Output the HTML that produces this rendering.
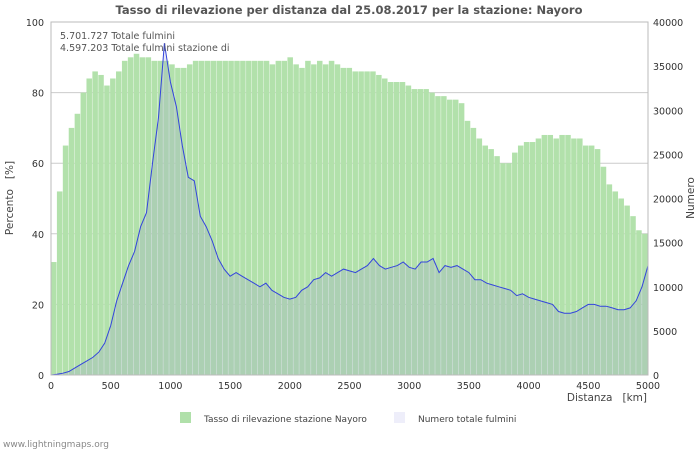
<!DOCTYPE html>
<html><head><meta charset="utf-8"><style>
body{margin:0;background:#fff;font-family:"Liberation Sans","DejaVu Sans",sans-serif;}
svg text{font-family:"DejaVu Sans","Liberation Sans",sans-serif;}
</style></head><body>
<svg id="c" width="700" height="450" xmlns="http://www.w3.org/2000/svg">
<text x="349" y="14" text-anchor="middle" font-size="11.5" font-weight="bold" fill="#555">Tasso di rilevazione per distanza dal 25.08.2017 per la stazione: Nayoro</text>
<g id="grid"></g><g id="bars"></g><g id="line"></g><g id="axes"></g>
<text x="60" y="39" font-size="9.5" fill="#555">5.701.727 Totale fulmini</text>
<text x="60" y="51" font-size="9.5" fill="#555">4.597.203 Totale fulmini stazione di</text>
<text transform="translate(13,198) rotate(-90)" text-anchor="middle" font-size="10.5" fill="#444">Percento&#160;&#160;&#160;[%]</text>
<text transform="translate(694,198) rotate(-90)" text-anchor="middle" font-size="10.5" fill="#444">Numero</text>
<text x="647" y="401" text-anchor="end" font-size="10.5" fill="#444">Distanza&#160;&#160;&#160;[km]</text>
<rect x="180" y="412" width="11" height="11" fill="#b0e0aa"/>
<text x="204" y="422" font-size="9" fill="#444">Tasso di rilevazione stazione Nayoro</text>
<rect x="394" y="412" width="11" height="11" fill="#eeeefa"/>
<text x="418" y="422" font-size="9" fill="#444">Numero totale fulmini</text>
<text x="3" y="447" font-size="9" fill="#888">www.lightningmaps.org</text>
</svg>
<script>
const distances=[0,50,100,150,200,250,300,350,400,450,500,550,600,650,700,750,800,850,900,950,1000,1050,1100,1150,1200,1250,1300,1350,1400,1450,1500,1550,1600,1650,1700,1750,1800,1850,1900,1950,2000,2050,2100,2150,2200,2250,2300,2350,2400,2450,2500,2550,2600,2650,2700,2750,2800,2850,2900,2950,3000,3050,3100,3150,3200,3250,3300,3350,3400,3450,3500,3550,3600,3650,3700,3750,3800,3850,3900,3950,4000,4050,4100,4150,4200,4250,4300,4350,4400,4450,4500,4550,4600,4650,4700,4750,4800,4850,4900,4950,5000];
const rates=[32,52,65,70,74,80,84,86,85,82,84,86,89,90,91,90,90,89,89,89,88,87,87,88,89,89,89,89,89,89,89,89,89,89,89,89,89,88,89,89,90,88,87,89,88,89,88,89,88,87,87,86,86,86,86,85,84,83,83,83,82,81,81,81,80,79,79,78,78,77,72,70,67,65,64,62,60,60,63,65,66,66,67,68,68,67,68,68,67,67,65,65,64,59,54,52,50,48,45,41,40];
const counts=[0,80,200,400,800,1200,1600,2000,2600,3600,5600,8400,10400,12400,14000,16800,18400,24000,29200,37600,33200,30400,26000,22400,22000,18000,16800,15200,13200,12000,11200,11600,11200,10800,10400,10000,10400,9600,9200,8800,8600,8800,9600,10000,10800,11000,11600,11200,11600,12000,11800,11600,12000,12400,13200,12400,12000,12200,12400,12800,12200,12000,12800,12800,13200,11600,12400,12200,12400,12000,11600,10800,10800,10400,10200,10000,9800,9600,9000,9200,8800,8600,8400,8200,8000,7200,7000,7000,7200,7600,8000,8000,7800,7800,7600,7400,7400,7600,8400,10000,12400];
const leftTicks=[0,20,40,60,80,100];
const rightTicks=[0,5000,10000,15000,20000,25000,30000,35000,40000];
const xTicks=[0,500,1000,1500,2000,2500,3000,3500,4000,4500,5000];
const X0=51,X1=648,Y0=375,Y1=22,NS="http://www.w3.org/2000/svg";
const xs=d=>X0+d/5000*(X1-X0), yl=v=>Y0-v/100*(Y0-Y1), yr=v=>Y0-v/40000*(Y0-Y1);
function mk(t,a,p){const e=document.createElementNS(NS,t);for(const k in a)e.setAttribute(k,a[k]);p.appendChild(e);return e;}
const grid=document.getElementById('grid'),bars=document.getElementById('bars'),line=document.getElementById('line'),axes=document.getElementById('axes');
leftTicks.forEach(v=>{if(v>0&&v<100){const g=mk('line',{x1:X0,x2:X1,y1:yl(v),y2:yl(v),stroke:'#ccc'},grid);

}});
const bw=(X1-X0)/distances.length;
distances.forEach((d,i)=>{const y=yl(rates[i]);const r=mk('rect',{x:X0+i*bw,y:y,width:bw-0.4,height:Y0-y,fill:'#b2e1ab'},bars);

});
let pts=distances.map((d,i)=>xs(d).toFixed(1)+','+yr(counts[i]).toFixed(1));
const area=mk('polygon',{points:X0+','+Y0+' '+pts.join(' ')+' '+X1+','+Y0,fill:'rgba(150,150,210,0.22)'},line);


const pl=mk('polyline',{points:pts.join(' '),fill:'none',stroke:'#3344dd','stroke-width':1},line);


const fr=mk('rect',{x:X0,y:Y1,width:X1-X0,height:Y0-Y1,fill:'none',stroke:'#bbb'},axes);


leftTicks.forEach(v=>{const t=mk('text',{x:X0-7,y:yl(v)+4,'text-anchor':'end','font-size':9.5,fill:'#333'},axes);t.textContent=v;

});
rightTicks.forEach(v=>{const t=mk('text',{x:X1+5,y:yr(v)+4,'font-size':9.5,fill:'#333'},axes);t.textContent=v;

});
xTicks.forEach(v=>{const t=mk('text',{x:xs(v),y:Y0+14,'text-anchor':'middle','font-size':9.5,fill:'#333'},axes);t.textContent=v;

});
</script>
</body></html>
